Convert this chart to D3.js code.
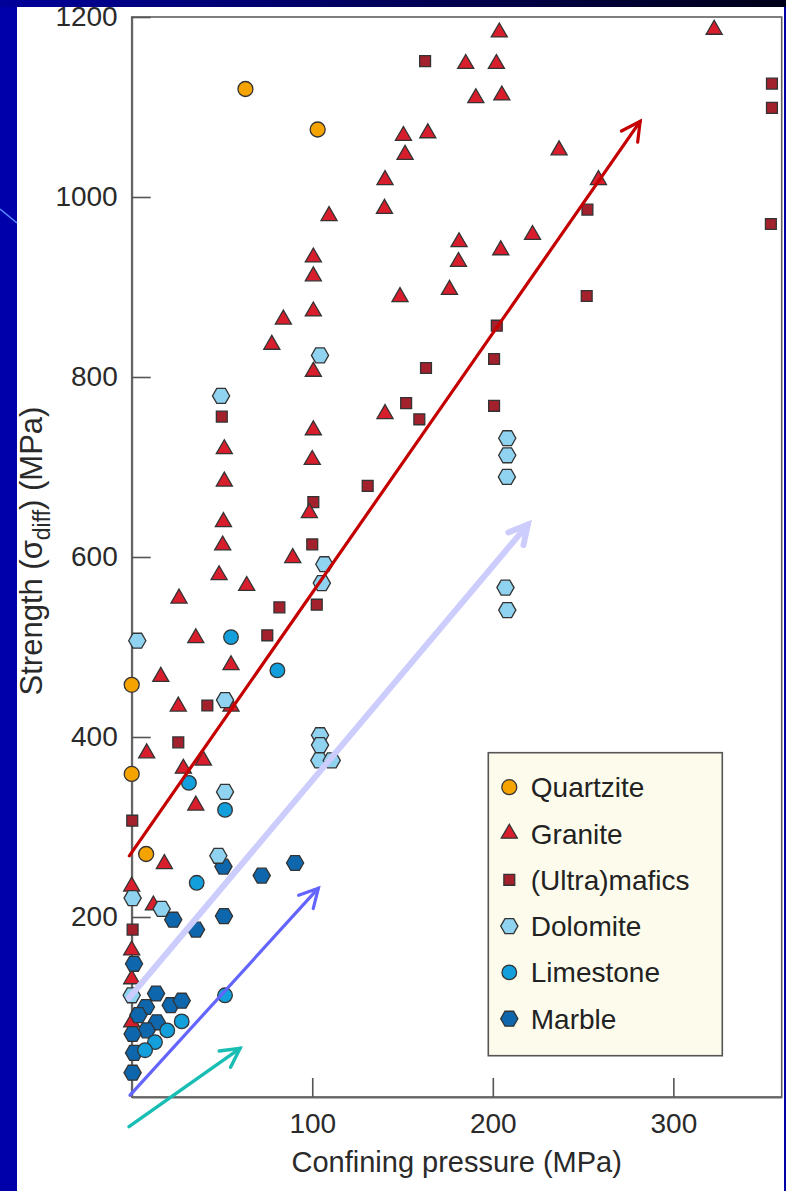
<!DOCTYPE html>
<html>
<head>
	<meta charset="utf-8">
	<title>Strength vs confining pressure</title>
	<script src="https://d3js.org/d3.v7.min.js"></script>
	<style>
		body { margin: 0; background: #0000aa; }
		svg { display: block; }
	</style>
</head>
<body>
	<div class="chart"></div>

	<script type="text/javascript">

		// [confining pressure (MPa), strength (MPa)]
		var quartzite = [[63, 1120], [103, 1075], [0, 458], [0, 359], [8, 270]]
		var granite = [
			[203.6, 1183], [322.6, 1186], [185, 1148], [202, 1148], [190.6, 1110], [205, 1113],
			[150.5, 1068], [164, 1071], [151.4, 1047], [140.3, 1019], [140, 987], [236.7, 1052],
			[258.5, 1019], [181.3, 950], [181, 928], [204.4, 941], [222, 958], [176, 897],
			[148.6, 889], [109.3, 979], [100.6, 933], [100.6, 912], [100.6, 873], [84, 864],
			[77.6, 836], [100.6, 806], [100.6, 741], [100, 708], [140.3, 759], [51.3, 720],
			[51.3, 684], [50.8, 639], [50.4, 613], [98.4, 649], [89.2, 599], [48.4, 580],
			[63.7, 568], [26.2, 554], [35.5, 510], [55, 480], [16.1, 467], [25.8, 434],
			[55, 434], [8.3, 382], [28.6, 365], [39.7, 374], [35.5, 324], [18.1, 259],
			[0, 234], [12, 213], [0, 163], [0, 131], [0, 83]
		]
		var mafics = [
			[162.5, 1151], [354.6, 1126], [354.6, 1099], [252.4, 986], [354, 970], [252, 890],
			[202.2, 857], [200.7, 820], [163, 810], [152, 771], [159.3, 753], [200.7, 768],
			[49.9, 756], [100.6, 661], [100, 614], [130.7, 679], [102.5, 547], [81.8, 544],
			[75.1, 513], [41.9, 435], [25.8, 394], [0.3, 307], [0.5, 186]
		]
		var dolomite = [
			[104.3, 824], [49.5, 779], [106.7, 592], [105.3, 571], [208, 732], [208, 713],
			[207.8, 689], [207, 566], [208, 541], [3.1, 507], [51.7, 441], [104.3, 402],
			[104.3, 391], [103.9, 374], [110.8, 374], [51.7, 339], [48, 268], [0.5, 221],
			[16.6, 209], [0, 113]
		]
		var limestone = [
			[55, 511], [80.7, 474], [31.7, 349], [51.7, 319], [36, 238], [51.7, 113],
			[27.7, 84], [19.7, 74], [12.9, 61], [7.4, 52]
		]
		var marble = [
			[50.8, 256], [72, 246], [90.5, 260], [23, 197], [51.1, 201], [35.6, 186],
			[1.3, 148], [13.5, 115], [7.9, 100], [21.6, 102], [27.7, 107], [3.7, 91],
			[13.9, 83], [8.3, 74], [0.5, 70], [1.3, 49], [0.5, 27]
		]

		var legendNames = ['Quartzite', 'Granite', '(Ultra)mafics', 'Dolomite', 'Limestone', 'Marble']
		var xTicks = [100, 200, 300]
		var yTicks = [200, 400, 600, 800, 1000, 1200]

		// annotation arrows: [x0, y0, x1, y1] in data units
		var arrows = [
			[-1.3, 268, 281.6, 1084],
			[-1.5, 110, 219.4, 636],
			[-0.9, 2, 103.4, 232],
			[-1.5, -33, 60, 54]
		]

		var width = 786
		var height = 1191
		var font = '"Liberation Sans", Arial, Helvetica, sans-serif'

		var svg = d3
			.select('.chart')
			.append('svg')
			.attr('width', width)
			.attr('height', height)

		// slide background
		var grad = svg.append('defs').append('linearGradient').attr('id', 'band')
		grad.append('stop').attr('offset', '0%').attr('stop-color', '#00009a')
		grad.append('stop').attr('offset', '100%').attr('stop-color', '#000018')

		svg.append('rect').attr('width', width).attr('height', height).attr('fill', '#0000aa')
		svg.append('rect').attr('width', width).attr('height', 7).attr('fill', 'url(#band)')
		svg.append('rect')
			.attr('x', 17).attr('y', 7)
			.attr('width', 767).attr('height', height - 7)
			.attr('fill', '#ffffff')
		svg.append('line')
			.attr('x1', 0).attr('y1', 209).attr('x2', 17).attr('y2', 223)
			.attr('stroke', '#5a8cff').attr('stroke-width', 1.5)

		// scales
		var x = d3.scaleLinear().domain([0, 360]).range([131.7, 781.7])
		var y = d3.scaleLinear().domain([0, 1200]).range([1097, 17])

		// frame
		svg.append('rect')
			.attr('x', x(0)).attr('y', y(1200))
			.attr('width', x(360) - x(0)).attr('height', y(0) - y(1200))
			.attr('fill', 'none')
			.attr('stroke', '#5f5f5f')
			.attr('stroke-width', 1.6)

		// axes
		var xAxis = svg.append('g')
			.attr('transform', `translate(0, ${y(0)})`)
			.call(d3.axisBottom(x).tickValues(xTicks).tickFormat(d3.format('d'))
				.tickSize(-19).tickSizeOuter(0).tickPadding(16))
		var yAxis = svg.append('g')
			.attr('transform', `translate(${x(0)}, 0)`)
			.call(d3.axisLeft(y).tickValues(yTicks).tickFormat(d3.format('d'))
				.tickSize(-19).tickSizeOuter(0).tickPadding(14))

		svg.selectAll('.tick text')
			.style('font-family', font)
			.style('font-size', '28px')
			.attr('fill', '#2a2a2a')
		svg.selectAll('.tick line').attr('stroke', '#555').attr('stroke-width', 1.6)
		svg.selectAll('.domain').attr('stroke', '#666').attr('stroke-width', 2)

		// axis titles
		svg.append('text')
			.attr('x', (x(0) + x(360)) / 2)
			.attr('y', 1172)
			.attr('text-anchor', 'middle')
			.style('font-family', font)
			.style('font-size', '29px')
			.attr('fill', '#2a2a2a')
			.text('Confining pressure (MPa)')

		var yTitle = svg.append('text')
			.attr('transform', 'translate(42, 551) rotate(-90)')
			.attr('text-anchor', 'middle')
			.style('font-family', font)
			.style('font-size', '31px')
			.attr('fill', '#2a2a2a')
		yTitle.append('tspan').text('Strength (σ')
		yTitle.append('tspan').attr('dy', 8).style('font-size', '23px').text('diff')
		yTitle.append('tspan').attr('dy', -8).text(') (MPa)')

		// marker shapes
		function hexagon(r) {
			var pts = d3.range(6).map(i => [r * Math.cos(i * Math.PI / 3), r * Math.sin(i * Math.PI / 3)])
			return 'M' + pts.map(p => p.join(',')).join('L') + 'Z'
		}
		var shapes = {
			circle: d3.symbol().type(d3.symbolCircle).size(Math.PI * 7.5 * 7.5)(),
			triangle: d3.symbol().type(d3.symbolTriangle).size(112)(),
			square: d3.symbol().type(d3.symbolSquare).size(118)(),
			hexagon: hexagon(8.6),
			dot: d3.symbol().type(d3.symbolCircle).size(Math.PI * 7.3 * 7.3)()
		}

		var series = [
			{ name: legendNames[2], data: mafics, shape: 'square', fill: '#a3202d' },
			{ name: legendNames[1], data: granite, shape: 'triangle', fill: '#d81e2c' },
			{ name: legendNames[5], data: marble, shape: 'hexagon', fill: '#0e67ad' },
			{ name: legendNames[4], data: limestone, shape: 'dot', fill: '#139fdb' },
			{ name: legendNames[3], data: dolomite, shape: 'hexagon', fill: '#8fd3f1' },
			{ name: legendNames[0], data: quartzite, shape: 'circle', fill: '#f4a300' }
		]

		var points = svg.append('g')
		series.forEach(s => {
			points.append('g')
				.selectAll('path')
				.data(s.data)
				.enter()
				.append('path')
				.attr('d', shapes[s.shape])
				.attr('transform', d => `translate(${x(d[0])}, ${y(d[1])})`)
				.attr('fill', s.fill)
				.attr('stroke', '#333')
				.attr('stroke-width', 1.3)
		})

		// arrows
		var arrowStyle = [
			{ color: '#c40000', w: 3.2 },
			{ color: '#cccdfd', w: 6 },
			{ color: '#6464ff', w: 3.2 },
			{ color: '#18bdb3', w: 3.4 }
		]
		arrows.forEach((a, i) => {
			var x0 = x(a[0]), y0 = y(a[1]), x1 = x(a[2]), y1 = y(a[3])
			var ang = Math.atan2(y0 - y1, x0 - x1)
			var len = 21, spread = 28 * Math.PI / 180
			var g = svg.append('g')
				.attr('stroke', arrowStyle[i].color)
				.attr('stroke-width', arrowStyle[i].w)
				.attr('fill', 'none')
				.attr('stroke-linecap', 'round')
			g.append('path').attr('d', d3.line()([[x0, y0], [x1, y1]]))
			g.append('path').attr('d', d3.line()([
				[x1 + len * Math.cos(ang + spread), y1 + len * Math.sin(ang + spread)],
				[x1, y1],
				[x1 + len * Math.cos(ang - spread), y1 + len * Math.sin(ang - spread)]
			]))
		})

		// legend
		var legend = svg.append('g').attr('transform', 'translate(488.3, 752.7)')
		legend.append('rect')
			.attr('width', 234).attr('height', 303)
			.attr('fill', '#fdfcec')
			.attr('stroke', '#555').attr('stroke-width', 1.6)

		var legendOrder = [5, 1, 0, 4, 3, 2]
		legendOrder.forEach((si, i) => {
			var s = series[si]
			var row = legend.append('g').attr('transform', `translate(21, ${34.5 + i * 46.3})`)
			row.append('path')
				.attr('d', shapes[s.shape])
				.attr('fill', s.fill)
				.attr('stroke', '#333')
				.attr('stroke-width', 1.3)
			row.append('text')
				.attr('x', 21.5)
				.attr('y', 10)
				.style('font-family', font)
				.style('font-size', '28px')
				.attr('fill', '#222')
				.text(s.name)
		})

	</script>
</body>
</html>
